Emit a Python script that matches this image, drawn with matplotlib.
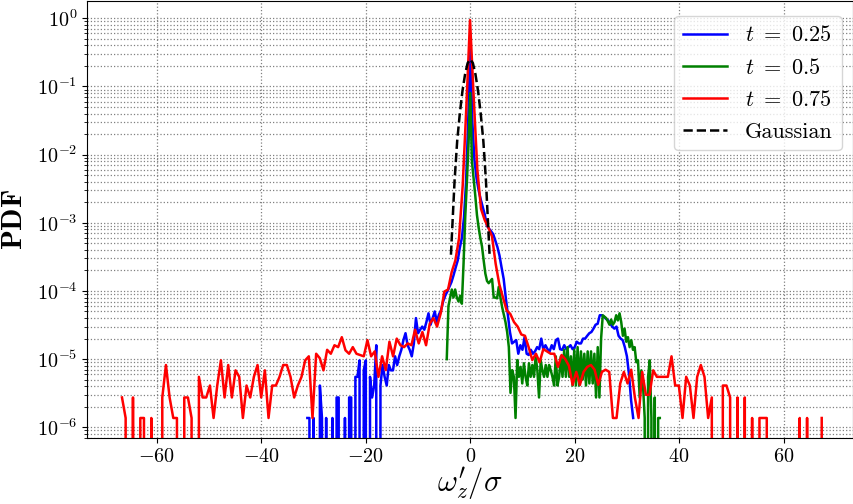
import numpy as np
import matplotlib
matplotlib.use("Agg")
import matplotlib.pyplot as plt
from matplotlib.ticker import FuncFormatter, LogLocator, NullFormatter, FixedLocator

plt.rcParams['font.family'] = 'serif'
plt.rcParams['font.serif'] = ['cmr10']
plt.rcParams['mathtext.fontset'] = 'cm'
plt.rcParams['axes.formatter.use_mathtext'] = True
plt.rcParams['axes.unicode_minus'] = False

# ---- data ----
red_range = (-66.7, 67.31)
red_pdf = [
    2.74e-6, 1.37e-6, 0, 2.74e-6, 0, 1.37e-6, 1.37e-6, 0, 1.37e-6, 0,
    0, 2.74e-6, 8.2e-6, 2.74e-6, 1.37e-6, 1.37e-6, 0, 2.74e-6, 2.74e-6, 1.37e-6,
    0, 5.5e-6, 2.74e-6, 2.74e-6, 4.1e-6, 1.37e-6, 4.1e-6, 9.6e-6, 2.74e-6, 8.2e-6,
    2.74e-6, 6.85e-6, 5.5e-6, 1.37e-6, 4.1e-6, 2.74e-6, 5.5e-6, 8.2e-6, 2.74e-6, 6.85e-6,
    1.37e-6, 4.1e-6, 4.1e-6, 5.5e-6, 8.2e-6, 8.2e-6, 5.5e-6, 2.74e-6, 4.1e-6, 5.5e-6,
    9.6e-6, 1.1e-5, 1.37e-6, 1.2e-5, 1.03e-5, 6.85e-6, 1.37e-5, 1.2e-5, 1.6e-5, 1.5e-5,
    2.1e-5, 1.35e-5, 1.2e-5, 1.5e-5, 1.2e-5, 1.15e-5, 1.1e-5, 1.9e-5, 1.1e-5, 1.3e-5,
    5.5e-6, 1.1e-5, 6.9e-6, 1.8e-5, 1.1e-5, 2.0e-5, 1.6e-5, 1.5e-5, 1.7e-5, 1.6e-5,
    2.7e-5, 1.7e-5, 2.5e-5, 1.6e-5, 3.3e-5, 4.0e-5, 3.0e-5, 4.7e-5, 9.8e-5, 1.05e-4,
    1.9e-4, 2.8e-4, 5.9e-4, 3.5e-3, 5.0e-2, 0.94, 7.0e-2, 6.0e-3, 1.6e-3, 1.1e-3,
    8.5e-4, 6.3e-4, 2.5e-4, 1.25e-4, 8.0e-5, 5.2e-5, 4.6e-5, 3.5e-5, 3.0e-5, 2.3e-5,
    2.2e-5, 1.5e-5, 9.7e-6, 1.2e-5, 9.0e-6, 1.4e-5, 1.3e-5, 1.2e-5, 1.2e-5, 7.7e-6,
    1.15e-5, 1.0e-5, 8.0e-6, 4.2e-6, 6.5e-6, 4.2e-6, 6.5e-6, 7.7e-6, 8.2e-6, 7.0e-6,
    4.2e-6, 6.5e-6, 7.0e-6, 6.5e-6, 1.37e-6, 1.37e-6, 4.4e-6, 6.5e-6, 4.4e-6, 7.0e-6,
    2.74e-6, 1.37e-6, 6.5e-6, 3.0e-6, 3.0e-6, 6.85e-6, 5.5e-6, 5.5e-6, 5.5e-6, 5.5e-6,
    1.1e-5, 4.1e-6, 4.1e-6, 1.37e-6, 5.5e-6, 4.1e-6, 1.37e-6, 5.5e-6, 8.2e-6, 5.5e-6,
    1.37e-6, 2.74e-6, 0, 0, 4.1e-6, 4.1e-6, 2.74e-6, 0, 2.74e-6, 0,
    2.74e-6, 0, 1.37e-6, 0, 1.37e-6, 1.37e-6, 1.37e-6, 0, 0, 0,
    0, 0, 0, 0, 0, 1.37e-6, 0, 1.37e-6, 0, 0,
    0, 1.37e-6,
]

blue_range = (-31.2, 31.2)
blue_pdf = [
    1.37e-6, 1.37e-6, 0, 1.37e-6, 0, 0, 4.1e-6, 1.37e-6, 0, 1.37e-6,
    0, 0, 1.37e-6, 0, 2.74e-6, 2.74e-6, 0, 0, 1.37e-6, 0,
    2.74e-6, 2.74e-6, 0, 5.5e-6, 5.5e-6, 9.6e-6, 0, 6.85e-6, 9.6e-6, 0,
    5.5e-6, 2.74e-6, 4.1e-6, 1.6e-5, 0, 4.1e-6, 8.2e-6, 5.5e-6, 4.1e-6, 8.2e-6,
    6.85e-6, 6.85e-6, 1.1e-5, 8.2e-6, 1.1e-5, 1.37e-5, 1.9e-5, 2.4e-5, 1.6e-5, 1.37e-5,
    1.1e-5, 1.7e-5, 4.0e-5, 2.4e-5, 2.7e-5, 3.0e-5, 2.7e-5, 3.5e-5, 4.7e-5, 3.2e-5,
    4.0e-5, 5.0e-5, 3.5e-5, 4.5e-5, 5.2e-5, 7.0e-5, 8.5e-5, 9.8e-5, 1.15e-4, 1.35e-4,
    1.7e-4, 2.2e-4, 2.8e-4, 4.3e-4, 6.0e-4, 1.2e-3, 4.0e-3, 3.0e-2, 0.35, 3.0e-2,
    8.3e-3, 4.5e-3, 3.0e-3, 2.2e-3, 1.7e-3, 1.3e-3, 9.0e-4, 8.2e-4, 7.5e-4, 6.8e-4,
    5.5e-4, 4.4e-4, 3.3e-4, 2.2e-4, 1.5e-4, 8.0e-5, 4.5e-5, 2.5e-5, 1.7e-5, 1.8e-5,
    1.9e-5, 1.2e-5, 1.6e-5, 1.37e-5, 2.1e-5, 1.2e-5, 1.15e-5, 1.37e-5, 1.2e-5, 1.3e-5,
    1.5e-5, 1.4e-5, 2.0e-5, 1.37e-5, 1.6e-5, 1.4e-5, 1.3e-5, 1.6e-5, 1.4e-5, 1.9e-5,
    2.0e-5, 1.4e-5, 1.37e-5, 1.6e-5, 1.4e-5, 1.5e-5, 1.6e-5, 1.4e-5, 1.5e-5, 1.8e-5,
    1.7e-5, 1.7e-5, 2.0e-5, 2.0e-5, 2.2e-5, 2.4e-5, 2.5e-5, 2.8e-5, 3.2e-5, 3.3e-5,
    4.4e-5, 4.4e-5, 4.2e-5, 3.9e-5, 3.7e-5, 3.3e-5, 3.0e-5, 2.8e-5, 3.0e-5, 2.2e-5,
    2.0e-5, 1.9e-5, 1.5e-5, 1.1e-5, 6.0e-6, 2.5e-6, 1.37e-6,
]

green_range = (-4.5, 36.3)
green_pdf = [
    1.0e-5, 6.0e-5, 8.0e-5, 1.05e-4, 8.0e-5, 1.05e-4, 8.0e-5, 7.0e-5, 8.5e-5, 6.5e-5,
    2.5e-4, 1.2e-3, 4.0e-3, 1.5e-2, 8.0e-2, 8.0e-3, 4.5e-3, 2.5e-3, 1.3e-3, 8.5e-4,
    6.0e-4, 4.5e-4, 2.8e-4, 1.8e-4, 1.4e-4, 1.3e-4, 1.4e-4, 1.5e-4, 8.0e-5, 8.0e-5,
    7.8e-5, 1.15e-4, 8.0e-5, 5.8e-5, 4.5e-5, 3.5e-5, 2.5e-5, 1.5e-5, 3.2e-6, 6.9e-6,
    5.5e-6, 1.37e-6, 9.7e-6, 5.5e-6, 7.7e-6, 4.4e-6, 8.7e-6, 5.5e-6, 4.1e-6, 8.7e-6,
    5.5e-6, 8.2e-6, 5.5e-6, 1.1e-5, 6.85e-6, 2.74e-6, 9.6e-6, 6.85e-6, 5.5e-6, 8.2e-6,
    5.5e-6, 8.2e-6, 6.85e-6, 5.5e-6, 4.1e-6, 1.1e-5, 4.1e-6, 5.5e-6, 1.1e-5, 5.5e-6,
    1.37e-5, 5.5e-6, 1.5e-5, 5.5e-6, 1.1e-5, 4.1e-6, 1.37e-5, 4.1e-6, 1.5e-5, 4.1e-6,
    1.3e-5, 5.0e-6, 1.2e-5, 4.1e-6, 1.3e-5, 4.4e-6, 1.3e-5, 4.4e-6, 1.2e-5, 2.74e-6,
    1.5e-5, 2.74e-6, 2.0e-5, 4.4e-5, 4.2e-5, 4.0e-5, 3.6e-5, 3.2e-5, 3.8e-5, 3.2e-5,
    3.5e-5, 4.4e-5, 3.7e-5, 4.7e-5, 3.5e-5, 2.2e-5, 2.8e-5, 1.8e-5, 2.1e-5, 1.5e-5,
    1.9e-5, 1.37e-5, 1.5e-5, 9.0e-6, 9.6e-6, 2.74e-6, 6.85e-6, 4.1e-6, 1.37e-6, 0,
    5.5e-6, 9.6e-6, 1.37e-6, 0, 2.74e-6, 0, 1.37e-6, 1.37e-6,
]

gauss_x = [-3.7, -3.5, -3.0, -2.5, -2.0, -1.5, -1.0, -0.5, 0.0,
           0.5, 1.0, 1.5, 2.0, 2.5, 3.0, 3.5, 3.7]
gauss_y = [3.4e-4, 7.0e-4, 4.2e-3, 1.6e-2, 4.0e-2, 8.5e-2, 0.15, 0.22, 0.25,
           0.22, 0.15, 8.5e-2, 4.0e-2, 1.6e-2, 4.2e-3, 7.0e-4, 3.4e-4]

labels = [r'$t\ =\ 0.25$', r'$t\ =\ 0.5$', r'$t\ =\ 0.75$', 'Gaussian']
x_ticks = [-60, -40, -20, 0, 20, 40, 60]
y_ticks = [1e-6, 1e-5, 1e-4, 1e-3, 1e-2, 1e-1, 1e0]

# ---- figure ----
fig = plt.figure(figsize=(8.54, 5.04), dpi=100)
ax = fig.add_axes([87 / 854, 1 - 438.3 / 504, 766 / 854, 437.3 / 504])

def centres(rng, vals):
    return np.linspace(rng[0], rng[1], len(vals))

lw = 1.8
ax.plot(centres(blue_range, blue_pdf), blue_pdf, color='blue', lw=lw, label=labels[0])
ax.plot(centres(green_range, green_pdf), green_pdf, color='green', lw=lw, label=labels[1])
ax.plot(centres(red_range, red_pdf), red_pdf, color='red', lw=lw, label=labels[2])
ax.plot(gauss_x, gauss_y, color='black', ls='--', lw=lw, label=labels[3])

ax.set_yscale('log')
ax.set_xlim(-73.4, 73.3)
ax.set_ylim(6.9e-7, 1.79)
ax.set_xticks(x_ticks)
ax.xaxis.set_major_formatter(FuncFormatter(lambda v, p: r'$%d$' % int(round(v))))
ax.yaxis.set_major_locator(FixedLocator(y_ticks))
ax.yaxis.set_minor_locator(LogLocator(base=10, subs=np.arange(2, 10), numticks=20))
ax.yaxis.set_major_formatter(FuncFormatter(lambda v, p: r'$10^{%d}$' % int(round(np.log10(v)))))
ax.yaxis.set_minor_formatter(NullFormatter())

ax.grid(True, which='major', axis='both', linestyle=':', color='0.5', lw=0.9)
ax.grid(True, which='minor', axis='y', linestyle=':', color='0.5', lw=0.9)
ax.tick_params(axis='both', which='major', labelsize=14.5)

ax.set_ylabel(r'$\mathbf{PDF}$', fontsize=21, labelpad=6)
ax.set_xlabel(r"$\omega^{\prime}_{z}/\sigma$", fontsize=22, labelpad=0)

ax.legend(loc='upper right', fontsize=16, labelspacing=0.55, handlelength=2.0,
          bbox_to_anchor=(1.0, 0.99))

fig.savefig('out.png', dpi=100)
